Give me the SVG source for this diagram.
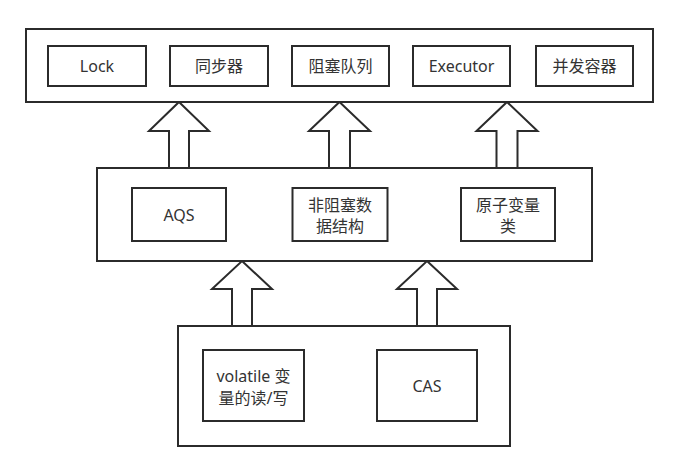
<svg xmlns="http://www.w3.org/2000/svg" width="684" height="470" viewBox="0 0 684 470">
<style>
.box{fill:#fff;stroke:#2b2b2b;stroke-width:2}
.arr{fill:#fff;stroke:#2b2b2b;stroke-width:2;stroke-linejoin:miter}
text{font-family:"Noto Sans","Noto Sans CJK SC",sans-serif;font-size:16px;fill:#333;text-anchor:middle;dominant-baseline:central}
</style>
<rect width="684" height="470" fill="#fff"/>
<g id="connectors">
<polygon class="arr" points="179,102 209,131 189,131 189,168 169,168 169,131 149,131"/>
<polygon class="arr" points="339.5,102 370,131 350,131 350,168 329,168 329,131 309,131"/>
<polygon class="arr" points="507,102 537.5,131 517.5,131 517.5,168 496.5,168 496.5,131 476.5,131"/>
<polygon class="arr" points="242,261 272,289 252,289 252,326 232,326 232,289 212,289"/>
<polygon class="arr" points="427,261 457,289 437,289 437,326 417,326 417,289 397,289"/>
</g>
<g id="top">
<rect class="box" x="26" y="29" width="627" height="73"/>
</g>
<g id="lock"><rect class="box" x="48" y="46" width="98" height="40"/><text x="97" y="66">Lock</text></g>
<g id="sync"><rect class="box" x="170" y="46" width="98" height="40"/><text x="219" y="66">同步器</text></g>
<g id="bq"><rect class="box" x="292" y="46" width="97" height="40"/><text x="340.5" y="66">阻塞队列</text></g>
<g id="executor"><rect class="box" x="413" y="46" width="97" height="40"/><text x="461.5" y="66">Executor</text></g>
<g id="cc"><rect class="box" x="536" y="46" width="97" height="40"/><text x="584.5" y="66">并发容器</text></g>
<g id="middle">
<rect class="box" x="97" y="168" width="495" height="93"/>
</g>
<g id="aqs"><rect class="box" x="132" y="188" width="94" height="53"/><text x="179" y="214.5">AQS</text></g>
<g id="nbds"><rect class="box" x="292.5" y="188" width="95" height="53"/><text x="340" y="205">非阻塞数</text><text x="340" y="226">据结构</text></g>
<g id="atomic"><rect class="box" x="461" y="188" width="94" height="53"/><text x="508" y="205">原子变量</text><text x="508" y="226">类</text></g>
<g id="bottom">
<rect class="box" x="178" y="326" width="332" height="120"/>
</g>
<g id="volatile"><rect class="box" x="203" y="350" width="101" height="71"/><text x="253.5" y="376">volatile 变</text><text x="253.5" y="398">量的读/写</text></g>
<g id="cas"><rect class="box" x="377" y="350" width="100" height="71"/><text x="427" y="386">CAS</text></g>
</svg>
